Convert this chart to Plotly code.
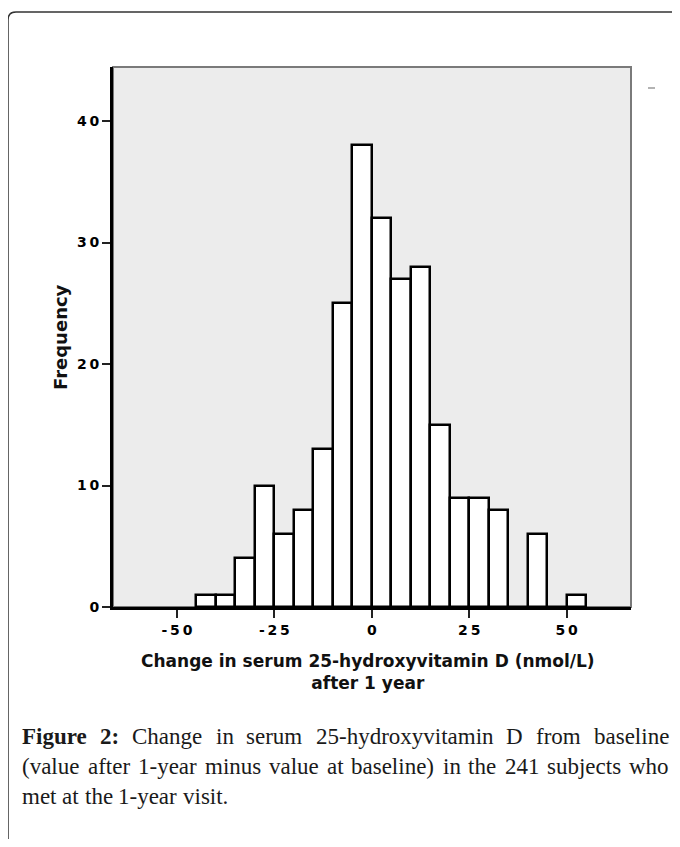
import plotly.graph_objects as go

# ---------------- data ----------------
bin_start = [-45, -40, -35, -30, -25, -20, -15, -10, -5, 0, 5, 10, 15, 20, 25, 30, 35, 40, 45, 50]
counts    = [1, 1, 4, 10, 6, 8, 13, 25, 38, 32, 27, 28, 15, 9, 9, 8, 0, 6, 0, 1]
bin_width = 5
x_ticks = [-50, -25, 0, 25, 50]
y_ticks = [0, 10, 20, 30, 40]
x_title_1 = "Change in serum 25-hydroxyvitamin D (nmol/L)"
x_title_2 = "after 1 year"
y_title = "Frequency"
caption_lines = [
    [("Figure", True), ("2:", True), ("Change", False), ("in", False), ("serum", False),
     ("25-hydroxyvitamin", False), ("D", False), ("from", False), ("baseline", False)],
    [("(value", False), ("after", False), ("1-year", False), ("minus", False), ("value", False),
     ("at", False), ("baseline)", False), ("in", False), ("the", False), ("241", False),
     ("subjects", False), ("who", False)],
    [("met", False), ("at", False), ("the", False), ("1-year", False), ("visit.", False)],
]
caption_justify = [True, True, False]

# ---------------- layout geometry (page pixels) ----------------
OFF = 8                 # browser body margin
W, H = 664, 831         # figure size (fits in window with body margins)
L, R, T, B = 113, 631, 67, 607   # plot area in page pixels


def px(xp):
    return (xp - L) / (R - L)


def py(yp):
    return (B - yp) / (B - T)


centers = [s + bin_width / 2 for s in bin_start]
spaced = lambda v: "\u2009".join(str(v))

fig = go.Figure()
fig.add_trace(go.Bar(
    x=centers, y=counts, width=bin_width,
    marker=dict(color="white", line=dict(color="black", width=2.5)),
    hoverinfo="x+y", showlegend=False,
))

tick_font = dict(family="DejaVu Sans", size=14, color="#000000", weight="bold")
fig.update_layout(
    width=W, height=H,
    margin=dict(l=L - OFF, r=(OFF + W) - R, t=T - OFF, b=(OFF + H) - B, pad=0),
    paper_bgcolor="white",
    plot_bgcolor="#ececec",
    bargap=0,
    xaxis=dict(
        range=[-66.4, 66.5], tickvals=x_ticks, ticktext=[spaced(v) for v in x_ticks],
        showgrid=False, zeroline=False, showline=True, linecolor="black", linewidth=2.5,
        ticks="outside", ticklen=8, tickwidth=1.5, tickcolor="#222222", tickfont=tick_font,
    ),
    yaxis=dict(
        range=[0, 44.45], tickvals=y_ticks, ticktext=[spaced(v) for v in y_ticks],
        showgrid=False, zeroline=False, showline=True, linecolor="black", linewidth=3,
        ticks="outside", ticklen=8, tickwidth=1.5, tickcolor="#222222", tickfont=tick_font,
    ),
)

shapes = []
# gray frame around plot area
shapes.append(dict(type="rect", xref="paper", yref="paper", x0=0, x1=1, y0=0, y1=1,
                   line=dict(color="#7a7a7a", width=2), layer="below"))
# small gray dash at top right
shapes.append(dict(type="line", xref="paper", yref="paper", x0=px(648), x1=px(655),
                   y0=py(88), y1=py(88), line=dict(color="#9a9a9a", width=1.5)))
# outer rounded frame
pts = "M {a},{b} L {c},{b} Q {d},{b} {d},{e} L {d},{f} Q {d},{g} {c},{g} L {a},{g}".format(
    a=px(700), b=py(12), c=px(16), d=px(8), e=py(20), f=py(838), g=py(846))
shapes.append(dict(type="path", xref="paper", yref="paper", path=pts,
                   line=dict(color="#333333", width=1.5)))
fig.update_layout(shapes=shapes)

ann = []
title_font = dict(family="DejaVu Sans", size=17, color="#111111", weight="bold")
ann.append(dict(text=x_title_1 + "<br>" + x_title_2, x=px(368), y=py(650), xref="paper",
                yref="paper", xanchor="center", yanchor="top", showarrow=False,
                font=title_font, borderpad=0))
ann.append(dict(text=y_title, x=px(60), y=0.5, xref="paper", yref="paper", textangle=-90,
                xanchor="center", yanchor="middle", showarrow=False,
                font=dict(title_font, size=18)))

# caption (justified word by word, Times metrics)
TNR = {" ": 250, "(": 333, ")": 333, "-": 333, ".": 250, ":": 278,
       "a": 444, "b": 500, "c": 444, "d": 500, "e": 444, "f": 333, "g": 500, "h": 500,
       "i": 278, "j": 278, "l": 278, "m": 778, "n": 500, "o": 500, "r": 333, "s": 389,
       "t": 278, "u": 500, "v": 500, "w": 722, "x": 500, "y": 500, "C": 667, "D": 722}
TNR_B = {"F": 611, "i": 278, "g": 500, "u": 556, "r": 444, "e": 444, ":": 333}
FS = 23
CAP_L, CAP_R = 21, 668
cap_y = [736, 766, 796]


def wwidth(word, bold):
    tot = 0
    for ch in word:
        if ch.isdigit():
            tot += 500
        elif bold:
            tot += TNR_B.get(ch, 500)
        else:
            tot += TNR.get(ch, 500)
    return tot / 1000 * FS


for line, just, yy in zip(caption_lines, caption_justify, cap_y):
    widths = [wwidth(w, b) for w, b in line]
    if just:
        gap = (CAP_R - CAP_L - sum(widths)) / (len(line) - 1)
    else:
        gap = 0.25 * FS
    xcur = CAP_L
    for (w, b), wd in zip(line, widths):
        ann.append(dict(text=w, x=px(xcur), y=py(yy), xref="paper", yref="paper",
                        xanchor="left", yanchor="middle", showarrow=False, borderpad=0,
                        font=dict(family="Liberation Serif", size=FS, color="#1a1a1a",
                                  weight="bold" if b else "normal")))
        xcur += wd + gap

fig.update_layout(annotations=ann)
fig.write_html("out.html")
